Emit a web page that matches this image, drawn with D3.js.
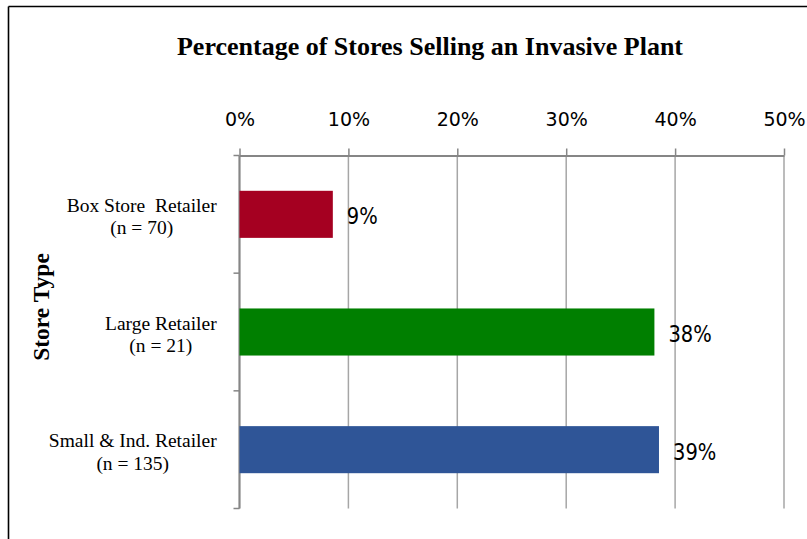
<!DOCTYPE html>
<html>
<head>
<meta charset="utf-8">
<script src="https://cdn.jsdelivr.net/npm/d3@7"></script>
<style>
  html, body { margin: 0; padding: 0; background: #fff; }
  svg { display: block; }
</style>
</head>
<body>
<svg id="chart" width="807" height="539"></svg>
<script>
// Share of surveyed stores that sold at least one invasive plant, by store type
const categories = ["Box Store  Retailer", "Large Retailer", "Small & Ind. Retailer"];
const sampleSizes = ["(n = 70)", "(n = 21)", "(n = 135)"];
const shares = [0.0857, 0.381, 0.3852];
const barColors = ["#a50021", "#007f00", "#2f5597"];
const tickValues = [0, 0.1, 0.2, 0.3, 0.4, 0.5];

const svg = d3.select("#chart");
const W = 807, H = 539;

// chart frame (left and top edges visible)
svg.append("line").attr("x1", 8.5).attr("x2", 8.5).attr("y1", 6.5).attr("y2", H)
  .attr("stroke", "#000").attr("stroke-width", 1.6);
svg.append("line").attr("x1", 8.5).attr("x2", W).attr("y1", 6.5).attr("y2", 6.5)
  .attr("stroke", "#000").attr("stroke-width", 1.6);

const plot = { left: 239.5, right: 784, top: 155.5, bottom: 508.5 };

const x = d3.scaleLinear().domain([0, 0.5]).range([plot.left, plot.right]);
const y = d3.scaleBand().domain(categories)
  .range([plot.top, plot.bottom]).paddingInner(0.6).paddingOuter(0.3);

// title
svg.append("text")
  .attr("x", 430).attr("y", 55)
  .attr("text-anchor", "middle")
  .style("font-family", "'Liberation Serif', serif")
  .style("font-weight", "bold")
  .style("font-size", "26px")
  .text("Percentage of Stores Selling an Invasive Plant");

// vertical gridlines
svg.append("g").selectAll("line").data(tickValues).join("line")
  .attr("x1", d => x(d)).attr("x2", d => x(d))
  .attr("y1", plot.top).attr("y2", plot.bottom)
  .attr("stroke", "#a6a6a6").attr("stroke-width", 1.5);

// value axis along the top
const xAxis = svg.append("g")
  .attr("transform", `translate(0,${plot.top})`)
  .call(d3.axisTop(x).tickValues(tickValues).tickFormat(d3.format(".0%"))
    .tickSize(7).tickPadding(23).tickSizeOuter(0));
xAxis.select(".domain").attr("stroke", "#868686").attr("stroke-width", 2);
xAxis.selectAll(".tick line").attr("stroke", "#868686").attr("stroke-width", 1.5);
xAxis.selectAll(".tick text")
  .attr("fill", "#000")
  .style("font-family", "'DejaVu Sans', sans-serif")
  .style("font-size", "19px");

// category axis: line plus ticks on band boundaries
const step = y.step();
const boundaries = categories.map(c => y(c) - step * 0.3).concat([plot.bottom]);
svg.append("line")
  .attr("x1", plot.left).attr("x2", plot.left)
  .attr("y1", plot.top).attr("y2", plot.bottom)
  .attr("stroke", "#868686").attr("stroke-width", 2);
svg.append("g").selectAll("line").data(boundaries).join("line")
  .attr("x1", plot.left - 6).attr("x2", plot.left)
  .attr("y1", d => d).attr("y2", d => d)
  .attr("stroke", "#868686").attr("stroke-width", 1.5);

// bars
svg.append("g").selectAll("rect").data(categories).join("rect")
  .attr("x", x(0))
  .attr("y", d => y(d))
  .attr("width", (d, i) => x(shares[i]) - x(0))
  .attr("height", y.bandwidth())
  .attr("fill", (d, i) => barColors[i]);

// value labels to the right of each bar
svg.append("g").selectAll("text").data(categories).join("text")
  .attr("transform", (d, i) =>
    `translate(${x(shares[i]) + 14},${y(d) + y.bandwidth() / 2 + 10}) scale(1,1.18)`)
  .style("font-family", "'DejaVu Sans', sans-serif")
  .style("font-size", "19.5px")
  .attr("fill", "#000")
  .text((d, i) => d3.format(".0%")(shares[i]));

// two-line category labels, block right-aligned to the axis, lines centred
const labelRight = 216.7;
const catGroups = svg.append("g").selectAll("g").data(categories).join("g");
catGroups.each(function (d, i) {
  const g = d3.select(this);
  const cy = y(d) + y.bandwidth() / 2;
  const lines = [d, sampleSizes[i]];
  const texts = lines.map((t, k) => g.append("text")
    .attr("y", cy - 2.5 + k * 22.5)
    .attr("text-anchor", "middle")
    .style("font-family", "'Liberation Serif', serif")
    .style("font-size", "19.5px")
    .style("white-space", "pre")
    .attr("fill", "#000")
    .text(t));
  const maxW = d3.max(texts, t => t.node().getComputedTextLength());
  texts.forEach(t => t.attr("x", labelRight - maxW / 2));
});

// category axis title
svg.append("text")
  .attr("transform", "translate(49,307) rotate(-90)")
  .attr("text-anchor", "middle")
  .style("font-family", "'Liberation Serif', serif")
  .style("font-weight", "bold")
  .style("font-size", "23.5px")
  .text("Store Type");
</script>
</body>
</html>
